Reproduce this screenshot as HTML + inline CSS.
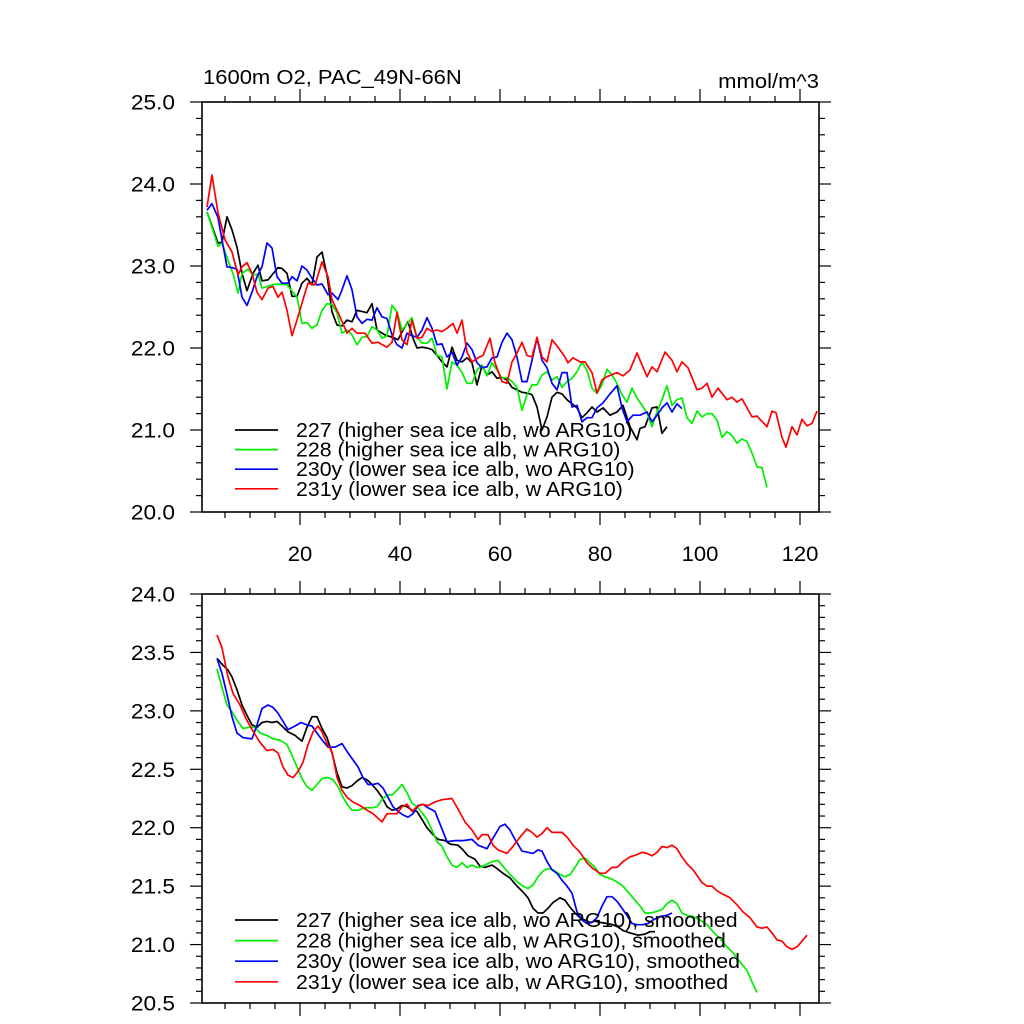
<!DOCTYPE html>
<html><head><meta charset="utf-8"><title>1600m O2 PAC_49N-66N</title>
<style>
html,body{margin:0;padding:0;background:#fff;}
svg{display:block;font-family:"Liberation Sans",Arial,sans-serif;}
</style></head>
<body>
<svg id="chart" width="1024" height="1024" viewBox="0 0 1024 1024" xmlns="http://www.w3.org/2000/svg">
<rect x="0" y="0" width="1024" height="1024" fill="#fff"/>
<text id="ttl" x="203" y="84" font-size="20">1600m O2, PAC_49N-66N</text>
<text id="unit" x="819" y="88" font-size="20" text-anchor="end">mmol/m^3</text>
<g id="top"></g>
<g id="bot"></g>
</svg>
<script>
const topYTicks = [20, 21, 22, 23, 24, 25];
const topYTickLabels = ["20.0","21.0","22.0","23.0","24.0","25.0"];
const botYTicks = [20.5, 21, 21.5, 22, 22.5, 23, 23.5, 24];
const botYTickLabels = ["20.5","21.0","21.5","22.0","22.5","23.0","23.5","24.0"];
const xTicks = [20, 40, 60, 80, 100, 120];
const xTickLabels = ["20","40","60","80","100","120"];

const top227 = [[1.4,23.66],[3.6,23.28],[4.4,23.29],[5.4,23.60],[6.4,23.44],[7.4,23.23],[8.4,22.91],[9.4,22.70],[10.6,22.91],[11.6,23.01],[12.4,22.82],[13.6,22.83],[15.6,22.98],[16.4,22.97],[17.4,22.91],[18.4,22.63],[19.4,22.63],[20.4,22.79],[21.4,22.85],[22.4,22.77],[23.4,23.11],[24.4,23.17],[25.4,22.89],[26.4,22.44],[27.4,22.28],[28.4,22.27],[29.4,22.34],[30.4,22.32],[31.4,22.46],[33.4,22.43],[34.4,22.54],[35.4,22.22],[37,22.16],[39,22.12],[39.6,22.10],[40.6,22.22],[41.6,22.32],[42.6,22.12],[43.4,22.0],[44.4,22.01],[45.4,22.0],[46.4,21.98],[47.4,21.91],[48.4,21.83],[49.4,21.77],[50.4,22.01],[51.4,21.85],[52.4,21.83],[53.4,21.88],[54.4,21.82],[55.4,21.55],[56.4,21.79],[57.4,21.67],[58.4,21.71],[59.4,21.63],[60.4,21.64],[61.4,21.61],[62.4,21.52],[63.4,21.49],[64.4,21.46],[65.4,21.45],[66.4,21.43],[67.4,21.28],[68.4,21.0],[69.4,21.16],[70.4,21.40],[71.4,21.46],[72.4,21.44],[73.4,21.37],[74.4,21.32],[75.4,21.27],[76.4,21.15],[77.4,21.21],[78.4,21.28],[79.4,21.22],[80.6,21.27],[82,21.18],[83.4,21.22],[84.6,21.30],[86,21.04],[87.4,20.88],[88,21.02],[89,21.04],[90.4,21.27],[91.4,21.28],[92.4,20.96],[93.4,21.04]];
const top228 = [[1.4,23.66],[3.6,23.24],[4.4,23.28],[5.6,23.07],[6.6,22.91],[7.6,22.67],[8.4,22.91],[9.6,22.96],[10.6,22.89],[11.6,22.90],[12.4,22.73],[14.4,22.77],[15.6,22.78],[17.4,22.77],[19.4,22.62],[20.4,22.30],[21.4,22.31],[22.4,22.24],[23.4,22.28],[24.4,22.46],[25.4,22.54],[26.4,22.53],[27.4,22.43],[28.4,22.18],[29.4,22.22],[30.4,22.16],[31.4,22.04],[32.4,22.13],[33.4,22.14],[34.4,22.26],[35.4,22.22],[36.4,22.12],[37.4,22.15],[38.4,22.52],[39.4,22.44],[40.4,22.22],[41.4,22.29],[42.4,22.37],[43.4,22.13],[44.4,22.06],[45.4,22.06],[46.4,22.12],[47.4,21.91],[48.4,21.89],[49.4,21.50],[50.4,21.83],[51.4,21.79],[52.4,21.70],[53.4,21.57],[54.4,21.57],[55.4,21.73],[56.4,21.79],[57.4,21.66],[58.4,21.82],[59.4,21.73],[60.4,21.63],[61.4,21.64],[62.4,21.59],[63.4,21.52],[64.4,21.24],[65.4,21.43],[66.4,21.55],[67.4,21.55],[68.4,21.67],[69.4,21.71],[70.4,21.61],[71.4,21.65],[72.4,21.52],[73.4,21.59],[74.4,21.63],[75.4,21.71],[76.4,21.83],[77.4,21.73],[78.4,21.51],[79.4,21.45],[80.4,21.55],[81.4,21.74],[82.4,21.67],[83.4,21.57],[84.4,21.43],[85.4,21.34],[86.4,21.51],[87.4,21.39],[88.4,21.30],[89.4,21.21],[90.4,21.04],[91.4,21.22],[92.4,21.37],[93.4,21.54],[94.4,21.30],[95.4,21.37],[96.4,21.39],[97.4,21.15],[98.4,21.08],[99.4,21.23],[100.4,21.16],[101.4,21.20],[102.4,21.20],[103.4,21.12],[104.4,20.91],[105.4,20.98],[106.4,20.93],[107.4,20.84],[108.4,20.89],[109.4,20.86],[110.4,20.72],[111.4,20.55],[112.4,20.54],[113.4,20.30]];
const top230y = [[1.4,23.68],[2.4,23.76],[3.6,23.59],[4.4,23.32],[5.4,22.99],[6.4,22.98],[7.4,22.96],[8.4,22.62],[9.4,22.52],[10.4,22.68],[11.4,22.87],[12.4,22.99],[13.4,23.28],[14.4,23.22],[15.4,22.87],[16.4,22.79],[17.6,22.79],[18.4,22.87],[19.4,22.82],[20.4,23.0],[21.4,22.95],[22.4,22.85],[23.4,22.77],[24.4,22.78],[25.6,22.65],[26.4,22.67],[27.6,22.59],[28.4,22.71],[29.4,22.88],[30.4,22.71],[31.4,22.38],[32.4,22.30],[33.4,22.35],[34.4,22.34],[35.4,22.49],[36.4,22.38],[37.4,22.36],[38.4,22.16],[39.4,22.04],[40.4,22.0],[41.4,22.18],[42.4,22.15],[43.4,22.13],[44.4,22.22],[45.4,22.37],[46.4,22.24],[47.4,22.04],[48.4,22.05],[49.4,21.89],[50.4,21.95],[51.4,21.79],[52.4,21.89],[53.4,22.06],[54.4,21.98],[55.4,21.82],[56.4,21.76],[57.4,21.77],[58.4,21.88],[59.4,21.89],[60.4,22.07],[61.4,22.18],[62.4,22.10],[63.4,21.89],[64.4,21.59],[65.4,21.59],[66.4,21.85],[67.4,22.12],[68.4,21.85],[69.4,21.76],[70.4,21.57],[71.4,21.49],[72.4,21.70],[73.4,21.70],[74.4,21.28],[75.4,21.30],[76.4,21.10],[77.4,21.15],[78.4,21.15],[79.4,21.27],[80.6,21.33],[82,21.44],[83.4,21.54],[84.4,21.27],[85.4,21.10],[86.6,21.18],[88,21.18],[89.4,21.22],[90.4,21.10],[91.4,21.18],[92.4,21.27],[93.4,21.33],[94.4,21.22],[95.4,21.32],[96.4,21.26]];
const top231y = [[1.4,23.72],[2.4,24.11],[3.6,23.65],[5,23.32],[6.4,23.17],[7.6,22.89],[8.4,22.99],[9.4,23.04],[10.4,22.91],[11.4,22.68],[12.4,22.59],[13.6,22.73],[14.6,22.75],[15.6,22.62],[16.4,22.68],[17.4,22.46],[18.4,22.15],[19.6,22.38],[20.6,22.59],[21.6,22.79],[23,22.77],[24.4,23.05],[25.6,22.87],[26.4,22.59],[28,22.38],[29.4,22.18],[30.4,22.24],[31.4,22.18],[33,22.18],[34.4,22.06],[35.6,22.07],[37.4,22.01],[38.4,22.07],[39.4,22.43],[40.4,22.10],[41.4,22.04],[42.4,22.34],[43.4,22.12],[44.4,22.13],[45.4,22.24],[46.4,22.20],[47.4,22.22],[48.4,22.20],[49.4,22.24],[50.6,22.30],[51.4,22.18],[52.4,22.34],[53.4,21.95],[54.4,21.83],[55.6,21.88],[56.6,21.91],[58,22.12],[59,21.82],[60.4,21.59],[61.4,21.57],[62.4,21.83],[63.4,21.94],[64.4,22.07],[65.4,21.91],[66.4,21.89],[67.4,22.13],[68.4,21.89],[69.4,21.83],[70.4,22.10],[71.6,22.01],[73,21.89],[73.6,21.82],[74.6,21.88],[76,21.83],[77,21.83],[78.4,21.70],[79.4,21.45],[80.4,21.61],[81.4,21.65],[83.4,21.70],[84.6,21.66],[86,21.73],[87.4,21.94],[89.4,21.65],[90.4,21.77],[91.4,21.71],[93,21.95],[94.4,21.85],[95.4,21.71],[96.4,21.83],[97.6,21.76],[99.4,21.49],[100.4,21.51],[101.4,21.57],[102.4,21.40],[103.6,21.51],[105.4,21.37],[106.4,21.40],[107.4,21.34],[108.4,21.38],[110.4,21.16],[111.4,21.17],[113.4,21.04],[114.4,21.23],[115.2,21.21],[116.4,20.91],[117.2,20.79],[118.4,21.04],[119.4,20.94],[120.4,21.13],[121.4,21.05],[122.4,21.08],[123.4,21.23]];

const bot227 = [[3.4,23.45],[4.6,23.39],[5.6,23.35],[6.4,23.29],[7.4,23.18],[8.4,23.05],[9.4,22.96],[10.4,22.88],[11.4,22.86],[12.4,22.90],[13.4,22.91],[14.4,22.90],[15.4,22.91],[16.4,22.87],[17.6,22.82],[19,22.79],[20.4,22.74],[21.4,22.86],[22.4,22.95],[23.4,22.95],[24.4,22.85],[25.4,22.77],[26.4,22.64],[27.4,22.47],[28.4,22.35],[29.4,22.34],[30.4,22.36],[31.4,22.40],[32.4,22.43],[33.4,22.41],[34.4,22.37],[35.4,22.32],[36.4,22.26],[37.4,22.18],[38.4,22.15],[39.4,22.16],[40.4,22.19],[41.4,22.18],[42.4,22.15],[43.4,22.14],[44.4,22.07],[45.4,22.0],[46.4,21.95],[47.6,21.90],[49,21.89],[50,21.86],[51.6,21.85],[52.6,21.81],[53.6,21.76],[55,21.73],[56,21.67],[57,21.66],[58.4,21.68],[59.4,21.65],[60.6,21.61],[62,21.57],[63.4,21.50],[64.6,21.45],[65.6,21.40],[66.6,21.31],[67.6,21.27],[68.6,21.27],[69.6,21.31],[70.6,21.36],[72,21.40],[73,21.38],[74,21.32],[75,21.27],[76,21.23],[77,21.21],[78,21.19],[79,21.20],[80,21.19],[81.4,21.18],[82.6,21.17],[83.6,21.15],[84.6,21.12],[86,21.10],[87.6,21.08],[89,21.09],[90,21.11],[91,21.11]];
const bot228 = [[3.4,23.36],[4.4,23.20],[5.4,23.05],[6.4,22.99],[7.4,22.92],[8.6,22.85],[10,22.86],[11,22.86],[12,22.81],[13.4,22.79],[14.6,22.76],[16,22.75],[17.4,22.71],[18.4,22.62],[19.4,22.52],[20.4,22.42],[21.4,22.35],[22.4,22.32],[23.4,22.37],[24.4,22.42],[25.6,22.43],[26.6,22.41],[27.6,22.35],[28.6,22.26],[29.6,22.19],[30.4,22.15],[31.6,22.15],[33,22.17],[34.4,22.17],[35.4,22.18],[36.4,22.24],[37.4,22.28],[38.4,22.28],[39.4,22.32],[40.4,22.37],[41.4,22.30],[42.4,22.21],[43.4,22.18],[44.4,22.13],[45.4,22.07],[46.4,21.98],[47.4,21.88],[48.4,21.84],[49.4,21.75],[50.4,21.68],[51.4,21.66],[52.4,21.70],[53.4,21.66],[54.4,21.68],[55.4,21.66],[56,21.66],[57,21.68],[58.4,21.71],[59.6,21.72],[60.6,21.67],[62,21.60],[63.4,21.54],[64.6,21.50],[65.6,21.48],[66.6,21.51],[67.6,21.58],[68.6,21.63],[69.6,21.65],[70.6,21.64],[72,21.60],[73,21.58],[74,21.60],[75,21.66],[76,21.73],[77,21.74],[78,21.70],[79,21.66],[80,21.60],[81,21.58],[82.4,21.56],[83.6,21.53],[84.6,21.50],[86,21.43],[87,21.38],[88,21.33],[89,21.27],[90,21.27],[91,21.28],[92.4,21.30],[93.4,21.35],[94.4,21.38],[95.4,21.35],[96.4,21.27],[97.4,21.25],[98.6,21.24],[100,21.21],[101.4,21.17],[102.6,21.11],[104,21.05],[105.4,20.98],[106.6,20.93],[108,20.85],[109.4,20.78],[110.4,20.68],[111.4,20.59]];
const bot230y = [[3.4,23.45],[4.4,23.32],[5.4,23.14],[6.4,22.95],[7.4,22.81],[8.6,22.77],[10.4,22.76],[11.4,22.88],[12.4,23.02],[13.6,23.05],[14.6,23.03],[15.6,22.98],[16.6,22.91],[17.6,22.84],[19,22.87],[20.2,22.90],[21.4,22.88],[22.4,22.87],[23.4,22.81],[24.6,22.74],[25.6,22.69],[27,22.69],[28.4,22.72],[29.6,22.64],[30.6,22.58],[31.6,22.52],[32.6,22.43],[33.6,22.37],[34.6,22.37],[35.6,22.38],[36.6,22.34],[37.6,22.26],[38.6,22.18],[39.6,22.14],[40.6,22.11],[41.6,22.09],[42.6,22.12],[43.6,22.19],[44.6,22.20],[45.6,22.17],[47,22.14],[48.2,22.01],[49.4,21.88],[51,21.89],[52.6,21.89],[54.4,21.90],[55.6,21.85],[57.4,21.82],[58.6,21.91],[60,22.01],[61,22.03],[62,21.98],[63,21.90],[64.4,21.80],[65.6,21.79],[66.6,21.78],[67.6,21.81],[68.4,21.80],[69.4,21.71],[70.4,21.64],[71.4,21.61],[72.4,21.55],[73.4,21.50],[74.4,21.44],[75.4,21.28],[76.4,21.21],[77.4,21.18],[78.4,21.19],[79.4,21.23],[80.4,21.33],[81.4,21.41],[82.4,21.41],[83.4,21.37],[84.4,21.31],[85.4,21.25],[86.4,21.18],[87.4,21.17],[88.6,21.17],[89.6,21.18],[90.6,21.21],[92,21.24],[93.4,21.25],[94.4,21.27]];
const bot231y = [[3.4,23.65],[4.4,23.54],[5.6,23.29],[6.6,23.15],[8,23.05],[9,22.95],[10.4,22.84],[12,22.73],[13.4,22.66],[14.6,22.67],[15.6,22.64],[16.6,22.52],[17.6,22.45],[18.6,22.43],[19.6,22.48],[20.6,22.56],[21.6,22.71],[22.6,22.82],[23.6,22.87],[24.4,22.82],[25.4,22.72],[26.4,22.65],[27.4,22.43],[28.4,22.32],[29.4,22.26],[30.6,22.22],[32,22.19],[33.4,22.15],[34.6,22.12],[36.4,22.05],[37.4,22.12],[38.4,22.12],[39.4,22.12],[40.4,22.18],[41.4,22.20],[42.4,22.14],[43.4,22.18],[44.4,22.20],[45.6,22.19],[47,22.22],[48.4,22.24],[50.4,22.25],[51.6,22.16],[53,22.05],[54.4,21.98],[55.6,21.90],[56.4,21.94],[57.6,21.94],[58.6,21.85],[59.6,21.81],[61.4,21.78],[62.6,21.84],[64,21.92],[65.4,21.99],[66.4,21.96],[67.4,21.92],[68.4,21.95],[69.4,22.00],[70.4,21.96],[71.4,21.96],[72.4,21.96],[73.6,21.91],[74.6,21.85],[76,21.79],[77.4,21.70],[78.6,21.65],[80,21.61],[81,21.61],[82.4,21.66],[83.4,21.66],[84.6,21.71],[86,21.75],[87.4,21.77],[88.4,21.79],[89.4,21.78],[90.4,21.76],[91.4,21.79],[92.4,21.84],[93.4,21.83],[94.4,21.85],[95.4,21.82],[96.4,21.75],[97.4,21.69],[98.6,21.64],[100.4,21.53],[101.4,21.50],[102.4,21.50],[103.4,21.46],[104.6,21.43],[106,21.40],[107.4,21.34],[108.6,21.28],[110,21.23],[111.4,21.15],[112.4,21.14],[113.4,21.15],[114.4,21.10],[115.4,21.04],[116.4,21.03],[117.4,20.98],[118.4,20.96],[119.4,20.98],[120.4,21.03],[121.4,21.08]];

const topLegend = ["227 (higher sea ice alb, wo ARG10)","228 (higher sea ice alb, w ARG10)","230y (lower sea ice alb, wo ARG10)","231y (lower sea ice alb, w ARG10)"];
const botLegend = ["227 (higher sea ice alb, wo ARG10), smoothed","228 (higher sea ice alb, w ARG10), smoothed","230y (lower sea ice alb, wo ARG10), smoothed","231y (lower sea ice alb, w ARG10), smoothed"];
const seriesColors = ["#000000","#00ee00","#0000ff","#ff0000"];

const NS = "http://www.w3.org/2000/svg";
const L = 202, R = 819;
function xS(v){ return 200 + 5*v; }
function mk(tag, attrs, parent){ const e=document.createElementNS(NS,tag); for(const k in attrs) e.setAttribute(k,attrs[k]); parent.appendChild(e); return e; }
function stretch(el, f){ const w = el.getComputedTextLength(); el.setAttribute("textLength", (w*f).toFixed(1)); el.setAttribute("lengthAdjust","spacingAndGlyphs"); }

function panel(g, T, B, ymin, ymax, yTicks, yLabels, yMinorStep, showXLabels, series, legend, legendY, legendStep){
  const yS = v => B - (v - ymin)/(ymax - ymin)*(B - T);
  series.forEach((s,i)=>{
    const d = s.map((p,j)=>(j?"L":"M")+xS(p[0]).toFixed(1)+","+yS(p[1]).toFixed(1)).join("");
    const p = mk("path",{d:d,fill:"none",stroke:seriesColors[i],"stroke-width":"1.7","stroke-linejoin":"round"},g);
    
    
  });
  const fr = mk("rect",{x:L,y:T,width:R-L,height:B-T,fill:"none",stroke:"#000","stroke-width":"1.6"},g);
  
  
  const nMin = Math.round((ymax-ymin)/yMinorStep);
  for(let k=0;k<=nMin;k++){
    const v = ymin + k*yMinorStep; const y=yS(v);
    const major = yTicks.some(t=>Math.abs(t-v)<1e-6);
    const len = major?12:6;
    mk("line",{x1:L,x2:L-len,y1:y,y2:y,stroke:"#000","stroke-width":"1.2"},g);
    mk("line",{x1:R,x2:R+len,y1:y,y2:y,stroke:"#000","stroke-width":"1.2"},g);
  }
  yTicks.forEach((t,i)=>{
    const tx = mk("text",{x:175,y:yS(t)+7.5,"font-size":"21","text-anchor":"end"},g);
    tx.textContent = yLabels[i];
    
    
    stretch(tx, 1.08);
  });
  for(let v=5; xS(v)<R; v+=5){
    const x=xS(v); const major = v%20===0; const len = major?13:6;
    mk("line",{x1:x,x2:x,y1:B,y2:B+len,stroke:"#000","stroke-width":"1.2"},g);
    mk("line",{x1:x,x2:x,y1:T,y2:T-len,stroke:"#000","stroke-width":"1.2"},g);
  }
  if(showXLabels){
    xTicks.forEach((t,i)=>{
      const tx = mk("text",{x:xS(t),y:B+49,"font-size":"21","text-anchor":"middle"},g);
      tx.textContent = xTickLabels[i];
      
      
      stretch(tx, 1.05);
    });
  }
  legend.forEach((lab,i)=>{
    const y = legendY + i*legendStep;
    const ln = mk("line",{x1:235,x2:278,y1:y,y2:y,stroke:seriesColors[i],"stroke-width":"1.7"},g);
    
    
    const tx = mk("text",{x:296,y:y+7,"font-size":"20"},g);
    tx.textContent = lab;
    
    
    stretch(tx, 1.065);
  });
}
panel(document.getElementById("top"),102,512,20,25,topYTicks,topYTickLabels,0.2,true,[top227,top228,top230y,top231y],topLegend,430,19.6);
panel(document.getElementById("bot"),594,1003,20.5,24,botYTicks,botYTickLabels,0.1,false,[bot227,bot228,bot230y,bot231y],botLegend,920,20.6);
stretch(document.getElementById("ttl"), 1.1);
stretch(document.getElementById("unit"), 1.1);
</script>
</body></html>
